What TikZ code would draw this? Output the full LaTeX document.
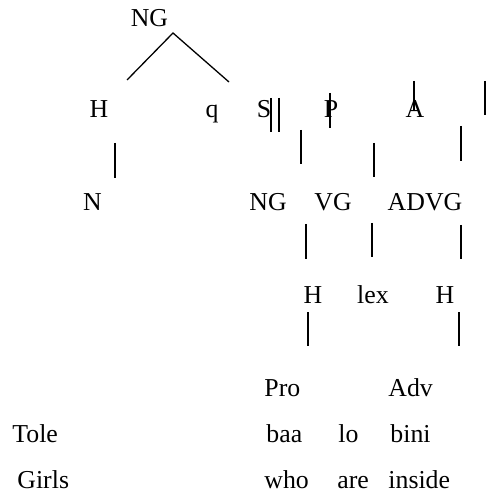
\documentclass[tikz,border=0pt]{standalone}
\usepackage{fontspec}
\setmainfont{Liberation Serif}
\begin{document}
\begin{tikzpicture}[x=0.465pt,y=-0.465pt,
  lbl/.style={inner sep=0pt,anchor=base,font=\fontsize{12}{14}\selectfont},
  lbll/.style={inner sep=0pt,anchor=base west,font=\fontsize{12}{14}\selectfont},
  ln/.style={line width=0.6pt,black}]
\useasboundingbox (0,0) rectangle (491,495);
% row 1
\node[lbl] (ng0) at (149.5,27) {NG};
% row 2
\node[lbl] (h1) at (99,118) {H};
\node[lbl] (q1) at (212,118) {q};
\node[lbl] (s1) at (264,118) {S};
\node[lbl] (p1) at (331,118) {P};
\node[lbl] (a1) at (415,118) {A};
% row 3
\node[lbl] (n2) at (92.5,211) {N};
\node[lbl] (ng2) at (268,211) {NG};
\node[lbl] (vg2) at (333,211) {VG};
\node[lbl] (advg2) at (425,211) {ADVG};
% row 4
\node[lbl] (h3a) at (313,303) {H};
\node[lbl] (lex3) at (373,303) {lex};
\node[lbl] (h3b) at (445,303) {H};
% row 5
\node[lbll] (pro) at (264,396) {Pro};
\node[lbll] (adv) at (388,396) {Adv};
% row 6
\node[lbll] (tole) at (12,442) {Tole};
\node[lbll] (baa) at (266,442) {baa};
\node[lbll] (lo) at (338,442) {lo};
\node[lbll] (bini) at (390,442) {bini};
% row 7
\node[lbll] (girls) at (17,488) {Girls};
\node[lbll] (who) at (264,488) {who};
\node[lbll] (are) at (337,488) {are};
\node[lbll] (inside) at (388,488) {inside};
% line end points
\coordinate (apex) at (173,33);
\coordinate (lft) at (127,80);
\coordinate (rgt) at (229,82);
\coordinate (s1a) at (271,98);  \coordinate (s1b) at (271,132);
\coordinate (s2a) at (279,98);  \coordinate (s2b) at (279,132);
\coordinate (c1a) at (301,130); \coordinate (c1b) at (301,164);
\coordinate (pa) at (330,93);   \coordinate (pb) at (330,128);
\coordinate (c2a) at (374,143); \coordinate (c2b) at (374,177);
\coordinate (aa) at (414,81);   \coordinate (ab) at (414,110);
\coordinate (c3a) at (461,126); \coordinate (c3b) at (461,161);
\coordinate (ra) at (485,81);   \coordinate (rb) at (485,115);
\coordinate (na) at (115,143);  \coordinate (nb) at (115,178);
\coordinate (d1a) at (306,224); \coordinate (d1b) at (306,259);
\coordinate (d2a) at (372,223); \coordinate (d2b) at (372,257);
\coordinate (d3a) at (461,225); \coordinate (d3b) at (461,259);
\coordinate (e1a) at (308,312); \coordinate (e1b) at (308,346);
\coordinate (e2a) at (459,312); \coordinate (e2b) at (459,346);
% lines
\draw[ln] (lft) -- (apex) -- (rgt);
\draw[ln] (s1a) -- (s1b);
\draw[ln] (s2a) -- (s2b);
\draw[ln] (c1a) -- (c1b);
\draw[ln] (pa) -- (pb);
\draw[ln] (c2a) -- (c2b);
\draw[ln] (aa) -- (ab);
\draw[ln] (c3a) -- (c3b);
\draw[ln] (ra) -- (rb);
\draw[ln] (na) -- (nb);
\draw[ln] (d1a) -- (d1b);
\draw[ln] (d2a) -- (d2b);
\draw[ln] (d3a) -- (d3b);
\draw[ln] (e1a) -- (e1b);
\draw[ln] (e2a) -- (e2b);
\end{tikzpicture}
\end{document}
